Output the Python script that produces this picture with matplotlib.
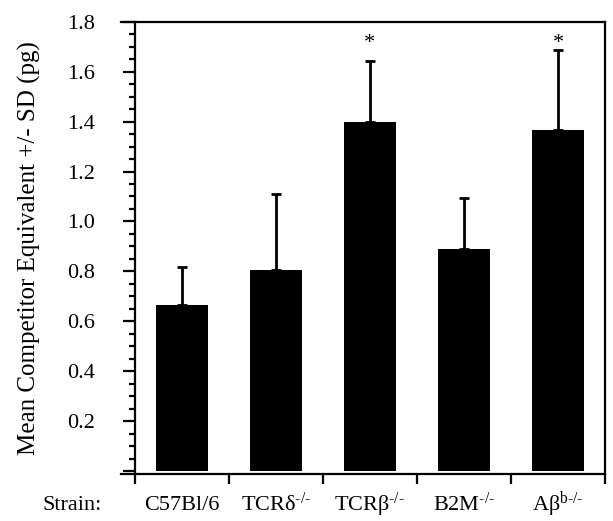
import matplotlib
matplotlib.use('Agg')
import matplotlib.pyplot as plt
from matplotlib.ticker import MultipleLocator

plt.rcParams['font.family'] = 'Liberation Serif'
plt.rcParams['mathtext.fontset'] = 'custom'
plt.rcParams['mathtext.rm'] = 'Liberation Serif'
plt.rcParams['mathtext.it'] = 'Liberation Serif'
plt.rcParams['mathtext.default'] = 'rm'

hy = '\u2010'
strains = ['C57Bl/6',
           'TCR$\\delta^{' + hy + '/' + hy + '}$',
           'TCR$\\beta^{' + hy + '/' + hy + '}$',
           'B2M$^{' + hy + '/' + hy + '}$',
           'A$\\beta^{b' + hy + '/' + hy + '}$']
means = [0.665, 0.805, 1.398, 0.888, 1.368]
sd = [0.152, 0.304, 0.245, 0.204, 0.319]
signif = [False, False, True, False, True]

fig = plt.figure(figsize=(6.13, 5.21), dpi=100)
ax = fig.add_axes([0.197, 0.0902, 0.790, 0.868])

x = list(range(len(means)))
ax.bar(x, means, width=0.55, color='black', zorder=2)
ax.errorbar(x, means, yerr=[[0] * len(sd), sd], fmt='none', ecolor='black',
            elinewidth=2, capsize=3.5, capthick=2, zorder=1)
for i, s in enumerate(signif):
    if s:
        ax.text(i, 1.695, '*', ha='center', va='baseline', fontsize=16)

ax.set_xlim(-0.65, 4.5)
ax.set_ylim(-0.012, 1.8)
ax.spines['left'].set_position(('data', -0.5))
for sp in ax.spines.values():
    sp.set_linewidth(1.6)

ax.set_xticks([i - 0.5 for i in range(len(means) + 1)])
ax.set_xticklabels([])
ax.tick_params(axis='x', direction='out', length=7.5, width=1.6)

ax.set_yticks([0, 0.2, 0.4, 0.6, 0.8, 1.0, 1.2, 1.4, 1.6, 1.8])
ax.set_yticklabels([''] + ['%.1f' % v for v in [0.2, 0.4, 0.6, 0.8, 1.0, 1.2, 1.4, 1.6, 1.8]])
ax.yaxis.set_minor_locator(MultipleLocator(0.05))
ax.tick_params(axis='y', which='major', direction='out', length=8.6, width=1.6, labelsize=16, pad=20)
ax.tick_params(axis='y', which='minor', direction='out', length=4.5, width=1.6)
ax.set_ylabel('Mean Competitor Equivalent +/- SD (pg)', fontsize=18)
ax.yaxis.set_label_coords(-0.165, 0.5)

for i, lab in enumerate(strains):
    ax.text(i, -0.158, lab, ha='center', va='baseline', fontsize=16)
ax.text(-1.165, -0.158, 'Strain:', ha='center', va='baseline', fontsize=16, clip_on=False)

fig.savefig('out.png', dpi=100)
